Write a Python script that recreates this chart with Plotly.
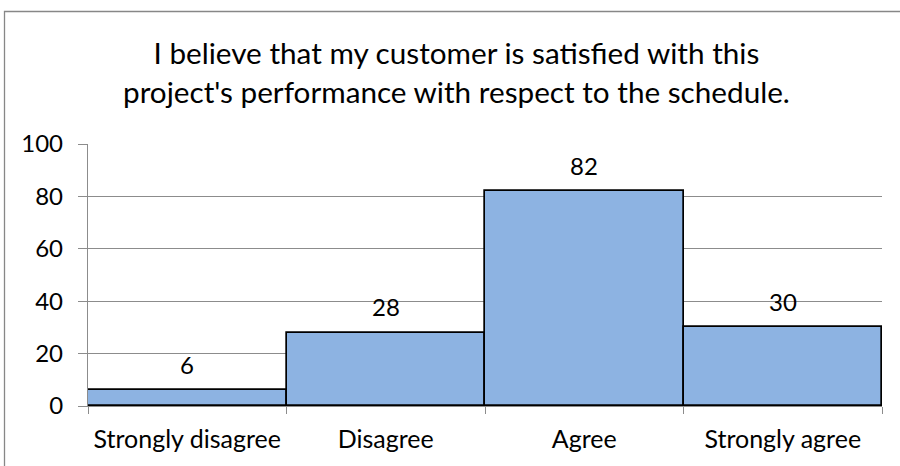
import plotly.graph_objects as go

# Survey responses
categories = ["Strongly disagree", "Disagree", "Agree", "Strongly agree"]
counts = [6, 28, 82, 30]
y_ticks = [0, 20, 40, 60, 80, 100]

title_text = ("I believe that my customer is satisfied with this<br>"
              "project's performance with respect to the schedule.")

W, H = 900, 466
L, R, T, B = 88, 18, 144, 60
plot_w = W - L - R
plot_h = H - T - B

FONT = "Lato, Carlito, Calibri, sans-serif"
GRID = "#8c8c8c"

fig = go.Figure()
fig.add_trace(go.Bar(
    x=categories,
    y=counts,
    marker=dict(color="#8db3e2", line=dict(color="#000000", width=1.7)),
    hoverinfo="x+y",
))

# value labels sitting above each bar
for cat, val in zip(categories, counts):
    fig.add_annotation(
        x=cat, y=val, xref="x", yref="y",
        text=str(val), showarrow=False,
        yshift=26, yanchor="middle",
        font=dict(family=FONT, size=24, color="#000000"),
    )

# chart title
fig.add_annotation(
    x=(456 - L) / plot_w, y=(H - B - 72) / plot_h,
    xref="paper", yref="paper",
    text=title_text, showarrow=False,
    xanchor="center", yanchor="middle", align="center",
    font=dict(family=FONT, size=29.7, color="#000000"),
)

# outer chart frame
fig.add_shape(
    type="rect", xref="paper", yref="paper",
    x0=(4.5 - L) / plot_w, x1=(910 - L) / plot_w,
    y0=(H - B - 480) / plot_h, y1=(H - B - 11.5) / plot_h,
    line=dict(color="#878787", width=1.3), fillcolor="rgba(0,0,0,0)",
    layer="below",
)

fig.update_layout(
    width=W, height=H,
    margin=dict(l=L, r=R, t=T, b=B, pad=0),
    paper_bgcolor="white", plot_bgcolor="white",
    bargap=0,
    showlegend=False,
    font=dict(family=FONT, size=24, color="#000000"),
)

fig.update_yaxes(
    range=[0, 100], tickvals=y_ticks,
    showgrid=True, gridcolor=GRID, gridwidth=1.3,
    showline=True, linecolor=GRID, linewidth=1.3,
    ticks="outside", ticklen=9, tickcolor=GRID, tickwidth=1.3,
    ticklabelstandoff=10,
    zeroline=False,
    tickfont=dict(family=FONT, size=24, color="#000000"),
)
fig.update_xaxes(
    showline=True, linecolor=GRID, linewidth=1.3,
    ticks="outside", ticklen=7, tickcolor=GRID, tickwidth=1.3,
    tickson="boundaries",
    showgrid=False,
    tickfont=dict(family=FONT, size=25, color="#000000"),
    ticklabelstandoff=11,
)

fig.write_html("out.html")
